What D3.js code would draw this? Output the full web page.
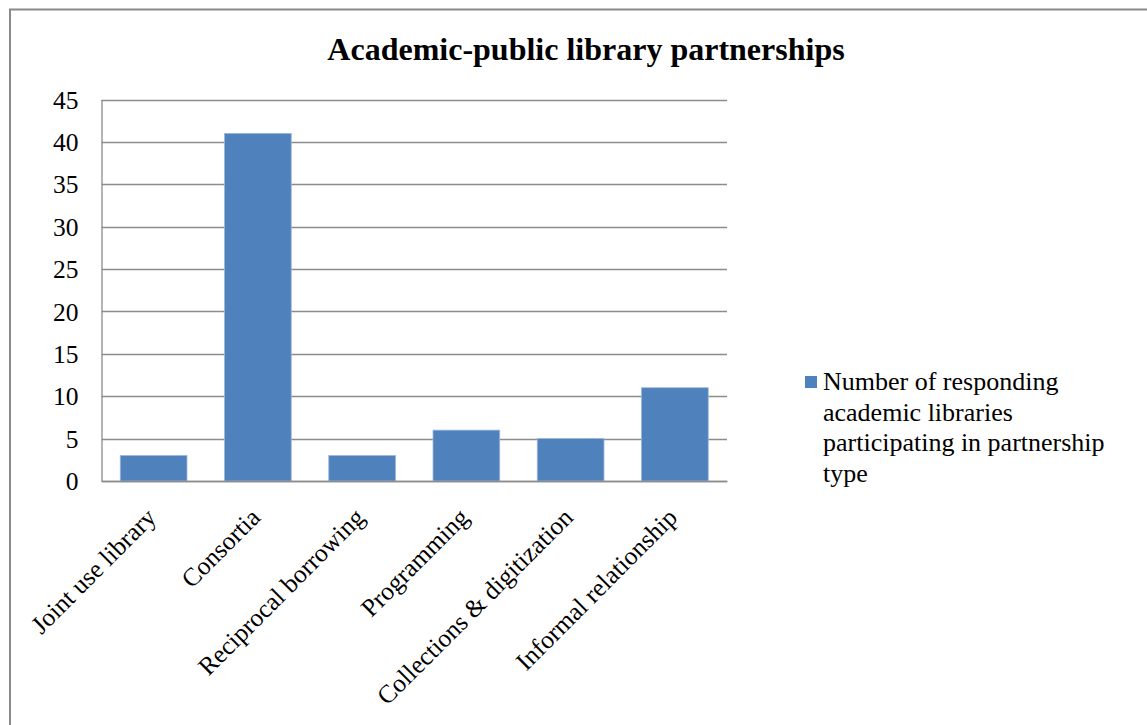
<!DOCTYPE html>
<html>
<head>
<meta charset="utf-8">
<script src="https://cdn.jsdelivr.net/npm/d3@7"></script>
<style>
  body { margin: 0; background: #fff; }
  text { font-family: "Liberation Serif", "Times New Roman", serif; fill: #000; }
</style>
</head>
<body>
<div id="plot"></div>
<script>
// data
const categories = ["Joint use library", "Consortia", "Reciprocal borrowing",
  "Programming", "Collections & digitization", "Informal relationship"];
const values = [3, 41, 3, 6, 5, 11];
const yTicks = [0, 5, 10, 15, 20, 25, 30, 35, 40, 45];
const seriesName = ["Number of responding", "academic libraries",
  "participating in partnership", "type"];

const width = 1147;
const height = 725;
const margin = { left: 101.5, right: 727, top: 99.5, bottom: 481 };

const svg = d3.select("div#plot")
  .append("svg")
  .attr("width", width)
  .attr("height", height);

// outer frame (only left and top edges show in the picture)
svg.append("path")
  .attr("d", `M10,${height} V9.5 H${width}`)
  .attr("fill", "none")
  .attr("stroke", "#8a8a8a")
  .attr("stroke-width", 2);

svg.append("text")
  .attr("x", 586)
  .attr("y", 60)
  .attr("text-anchor", "middle")
  .style("font-size", "32px")
  .style("font-weight", "bold")
  .text("Academic-public library partnerships");

const x = d3.scaleBand()
  .domain(categories)
  .range([margin.left, margin.right])
  .paddingInner(0.36)
  .paddingOuter(0.18);

const y = d3.scaleLinear()
  .domain([0, 45])
  .range([margin.bottom, margin.top]);

// gridlines
svg.append("g")
  .selectAll("line")
  .data(yTicks)
  .join("line")
  .attr("x1", margin.left)
  .attr("x2", margin.right)
  .attr("y1", d => Math.round(y(d)) + 0.5)
  .attr("y2", d => Math.round(y(d)) + 0.5)
  .attr("stroke", "#8c8c8c")
  .attr("stroke-width", 1.3);

// y axis
const yAxis = svg.append("g")
  .attr("transform", `translate(${margin.left},0)`)
  .call(d3.axisLeft(y).tickValues(yTicks).tickSize(0).tickPadding(23));
yAxis.select(".domain").attr("stroke", "#8c8c8c").attr("stroke-width", 1.3);
yAxis.selectAll("text")
  .style("font-family", "Liberation Serif, serif")
  .style("font-size", "25.5px")
  .attr("dy", "0.34em");

// bars
svg.append("g")
  .selectAll("rect")
  .data(values)
  .join("rect")
  .attr("x", (d, i) => x(categories[i]))
  .attr("y", d => y(d))
  .attr("width", x.bandwidth())
  .attr("height", d => y(0) - y(d))
  .attr("fill", "#4f81bd")
  .attr("stroke", "#9ab6db")
  .attr("stroke-width", 0.8);

// x axis
const xAxis = svg.append("g")
  .attr("transform", `translate(0,${margin.bottom})`)
  .call(d3.axisBottom(x).tickSize(0).tickPadding(0));
xAxis.select(".domain").attr("stroke", "#8c8c8c").attr("stroke-width", 1.3);
xAxis.selectAll("text")
  .style("font-family", "Liberation Serif, serif")
  .style("font-size", "25.5px")
  .attr("text-anchor", "end")
  .attr("dy", 0)
  .attr("y", 0)
  .attr("transform", "translate(4,38) rotate(-45)");

// legend
const legend = svg.append("g")
  .attr("transform", "translate(805,376)");
legend.append("rect")
  .attr("width", 12)
  .attr("height", 12)
  .attr("fill", "#4f81bd");
legend.selectAll("text")
  .data(seriesName)
  .join("text")
  .attr("x", 18)
  .attr("y", (d, i) => 14 + i * 30.5)
  .style("font-size", "26px")
  .text(d => d);
</script>
</body>
</html>
